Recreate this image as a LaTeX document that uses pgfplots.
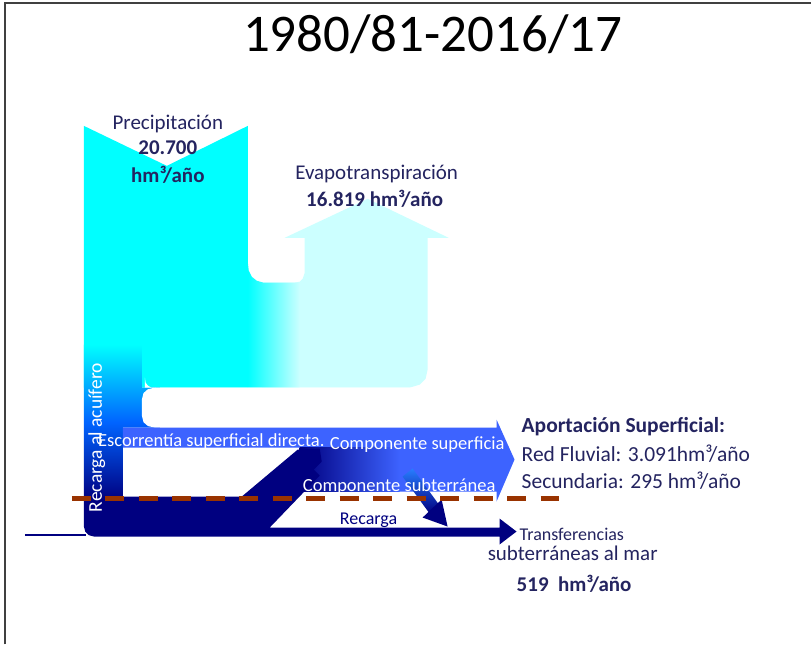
\documentclass[border=0pt]{standalone}
\usepackage{fontspec}
\setmainfont{Carlito}
\usepackage{pgfplots}
\pgfplotsset{compat=1.18}
\definecolor{cyanc}{RGB}{0,255,255}
\definecolor{lcyan}{RGB}{204,255,255}
\definecolor{bandblue}{RGB}{61,99,255}
\definecolor{midblue}{RGB}{0,100,255}
\definecolor{lblue}{RGB}{40,125,255}
\definecolor{navyc}{RGB}{0,0,128}
\definecolor{dbrown}{RGB}{153,51,0}
\definecolor{txt}{RGB}{36,36,96}
\begin{document}
\begin{tikzpicture}
\begin{axis}[width=812pt, height=645pt, scale only axis,
  xmin=0, xmax=812, ymin=0, ymax=645, y dir=reverse,
  hide axis, clip=false]
% background
\addplot[fill=white, draw=none] coordinates {(0,0)(812,0)(812,645)(0,645)} -- cycle;
% frame (left and top edges only)
\addplot[draw=black!75, line width=1.5pt] coordinates {(5,645)(5,3)(812,3)};
% light cyan: evapotranspiration arrow and right part of band
\addplot[fill=lcyan, draw=none] coordinates {(262,283)(294,283)(300,282)(303,279)(305,273)(305,238)(285,238)(368,199)(449,238)(428,238)(428,370)(426,379)(420,385)(410,388)(262,388)} -- cycle;
% cyan: precipitation column and left part of band
\addplot[fill=cyanc, draw=none] coordinates {(84,126)(167,166)(248,126)(248,388)(84,388)} -- cycle;
% transition cyan -> light cyan
\addplot[draw=none, left color=cyanc, right color=lcyan] coordinates {(248,262)(249,271)(252,277)(257,281)(264,283)(300,283)(300,388)(248,388)} -- cycle;
% column: recarga al acuifero (cyan -> blue -> navy)
\addplot[draw=none, top color=cyanc, bottom color=navyc, middle color=midblue] coordinates {(84,345)(142,345)(142,388)(160,388)(160,428)(123,428)(123,500)(84,500)} -- cycle;
% white gap between cyan band and runoff band
\addplot[fill=white, draw=none] coordinates {(155,388)(148,389.6)(143.6,393.5)(142,400)(142,416)(143.6,422.5)(148,426.4)(155,428)(440,428)(440,388)} -- cycle;
\addplot[fill=white, draw=none] coordinates {(145,378)(145.8,383)(148,386)(151,387.6)(156,388)(145,388)} -- cycle;
% runoff / surface component arrow
\addplot[fill=bandblue, draw=none] coordinates {(123,428)(497,428)(497,420)(515,460)(497,502)(497,492)(300,492)(300,448)(123,448)} -- cycle;
% groundwater component gradient
\addplot[draw=none, left color=navyc, right color=bandblue] coordinates {(300,448)(400,448)(400,492)(300,492)} -- cycle;
% navy bottom block, diagonal and transfer arrow
\addplot[fill=navyc, draw=none] coordinates {(84,497)(242,497)(298,450)(320,449)(322,462)(314,470)(320,476)(270,528)(500,528)(500,519)(517,532)(500,545)(500,537)(94,537)(89,535.7)(85.3,532)(84,527)} -- cycle;
% recharge diagonal arrow
\addplot[draw=none, top color=lblue, bottom color=navyc] coordinates {(403,477)(413,469)(440,506)(430,514)} -- cycle;
\addplot[fill=navyc, draw=none] coordinates {(442,500)(423,518)(448,527)} -- cycle;
% dashed line
\addplot[draw=dbrown, line width=5pt, dash pattern=on 19pt off 14.5pt] coordinates {(72,499)(562,499)};
% thin line at left
\addplot[draw=navyc, line width=1.2pt] coordinates {(25,535.5)(86,535.5)};

% texts
\node[anchor=base, font=\fontsize{53}{60}\selectfont, text=black] at (axis cs:433,52) {1980/81-2016/17};
\node[anchor=base, font=\fontsize{21}{24}\selectfont, text=txt] at (axis cs:168,130) {Precipitación};
\node[anchor=base, font=\fontsize{21}{24}\selectfont\bfseries, text=txt] at (axis cs:168,155) {20.700};
\node[anchor=base, font=\fontsize{21}{24}\selectfont\bfseries, text=txt] at (axis cs:168,183) {hm³/año};
\node[anchor=base, font=\fontsize{21}{24}\selectfont, text=txt] at (axis cs:377,180) {Evapotranspiración};
\node[anchor=base, font=\fontsize{21}{24}\selectfont\bfseries, text=txt] at (axis cs:375,207) {16.819 hm³/año};
\node[anchor=base west, inner sep=0pt, font=\fontsize{21.5}{24}\selectfont\bfseries, text=txt] at (axis cs:522,433) {Aportación Superficial:};
\node[anchor=base west, inner sep=0pt, font=\fontsize{21.5}{24}\selectfont, text=txt] at (axis cs:522,462) {Red Fluvial: 3.091hm³/año};
\node[anchor=base west, inner sep=0pt, font=\fontsize{21.5}{24}\selectfont, text=txt] at (axis cs:522,489) {Secundaria: 295 hm³/año};
\node[anchor=base west, inner sep=0pt, font=\fontsize{18}{20}\selectfont, text=txt] at (axis cs:520,541) {Transferencias};
\node[anchor=base west, inner sep=0pt, font=\fontsize{21}{24}\selectfont, text=txt] at (axis cs:488,561) {subterráneas al mar};
\node[anchor=base west, inner sep=0pt, font=\fontsize{21}{24}\selectfont\bfseries, text=txt] at (axis cs:517,592) {519~~hm³/año};
\node[anchor=base west, inner sep=0pt, font=\fontsize{18.5}{20}\selectfont, text=white] at (axis cs:98,447) {Escorrentía superficial directa.};
\node[anchor=base west, inner sep=0pt, font=\fontsize{18.5}{20}\selectfont, text=white] at (axis cs:330,450) {Componente superficia};
\node[anchor=base west, inner sep=0pt, font=\fontsize{18.5}{20}\selectfont, text=white] at (axis cs:303,492) {Componente subterránea};
\node[anchor=base west, inner sep=0pt, font=\fontsize{18}{20}\selectfont, text=navyc] at (axis cs:340,525) {Recarga};
\node[anchor=base, rotate=90, inner sep=0pt, font=\fontsize{19.5}{22}\selectfont, text=white] at (axis cs:102,438) {Recarga al acuífero};
\end{axis}
\end{tikzpicture}
\end{document}
